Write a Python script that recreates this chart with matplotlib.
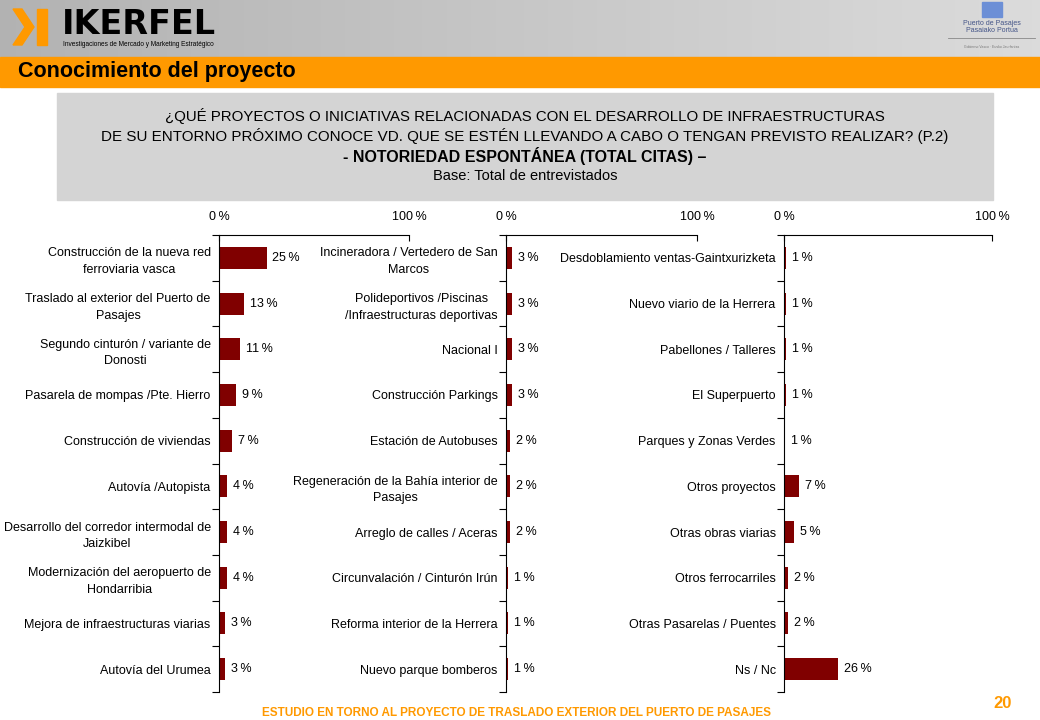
import numpy as np
import matplotlib
matplotlib.use("Agg")
import matplotlib.pyplot as plt
from matplotlib.patches import Rectangle, Polygon

plt.rcParams['font.family'] = ['Liberation Sans', 'DejaVu Sans']

# ---- data ----
cats1 = ["Construcción de la nueva red\nferroviaria vasca",
         "Traslado al exterior del Puerto de\nPasajes",
         "Segundo cinturón / variante de\nDonosti",
         "Pasarela de mompas /Pte. Hierro",
         "Construcción de viviendas",
         "Autovía /Autopista",
         "Desarrollo del corredor intermodal de\nJaizkibel",
         "Modernización del aeropuerto de\nHondarribia",
         "Mejora de infraestructuras viarias",
         "Autovía del Urumea"]
vals1 = [25, 13, 11, 9, 7, 4, 4, 4, 3, 3]

cats2 = ["Incineradora / Vertedero de San\nMarcos",
         "Polideportivos /Piscinas\n/Infraestructuras deportivas",
         "Nacional I",
         "Construcción Parkings",
         "Estación de Autobuses",
         "Regeneración de la Bahía interior de\nPasajes",
         "Arreglo de calles / Aceras",
         "Circunvalación / Cinturón Irún",
         "Reforma interior de la Herrera",
         "Nuevo parque bomberos"]
vals2 = [3, 3, 3, 3, 2, 2, 2, 1, 1, 1]

cats3 = ["Desdoblamiento ventas-Gaintxurizketa",
         "Nuevo viario de la Herrera",
         "Pabellones / Talleres",
         "El Superpuerto",
         "Parques y Zonas Verdes",
         "Otros proyectos",
         "Otras obras viarias",
         "Otros ferrocarriles",
         "Otras Pasarelas / Puentes",
         "Ns / Nc"]
vals3 = [1, 1, 1, 1, 0.3, 7, 5, 2, 2, 26]

bar_color = "#800000"
orange = "#FF9900"

W, H = 1040, 720
fig = plt.figure(figsize=(W / 100, H / 100), dpi=100)
fig.patch.set_facecolor("white")

def px(x, y, w, h):
    # pixel box (top-left origin) -> figure fraction rect
    return [x / W, 1 - (y + h) / H, w / W, h / H]

# ---- header ----
bg = fig.add_axes([0, 0, 1, 1], zorder=-5)
bg.set_xlim(0, W)
bg.set_ylim(H, 0)
bg.axis("off")
grad = np.linspace(0.70, 0.86, 256).reshape(1, -1)
bg.imshow(np.dstack([grad, grad, grad]), extent=[0, W, 57, 0], aspect="auto")
bg.add_patch(Rectangle((0, 57), W, 30, color=orange))
bg.text(18, 72, "Conocimiento del proyecto", fontsize=15.5, fontweight="bold",
        va="center", ha="left")

# IKERFEL logo
bg.add_patch(Polygon([(13, 9), (22, 9), (34, 27), (22, 45), (13, 45), (25, 27)],
                     color=orange))
bg.add_patch(Rectangle((37, 9), 10, 36, color=orange))
bg.text(62, 24, "IKERFEL", fontsize=24, fontweight="heavy", va="center",
        ha="left", family="DejaVu Sans")
bg.text(63, 44, "Investigaciones de Mercado y Marketing Estratégico", fontsize=4.7,
        va="center", ha="left")

# Puerto de Pasajes logo
bg.add_patch(Rectangle((982, 2), 20, 15, color="#6c8fd6"))
bg.text(992, 27, "Puerto de Pasajes\nPasaiako Portua", fontsize=5, color="#445588",
        ha="center", va="center", linespacing=1.1)
bg.plot([948, 1035], [38, 38], color="#888888", lw=0.6)
bg.text(992, 47, "Gobierno Vasco · Eusko Jaurlaritza", fontsize=2.5,
        color="#777777", ha="center", va="center")

# question box
bg.add_patch(Rectangle((57, 93), 936, 107, color="#d4d4d4"))
bg.text(525, 116, "¿QUÉ PROYECTOS O INICIATIVAS RELACIONADAS CON EL DESARROLLO DE INFRAESTRUCTURAS",
        fontsize=10.8, ha="center", va="center")
bg.text(525, 136, "DE SU ENTORNO PRÓXIMO CONOCE VD. QUE SE ESTÉN LLEVANDO A CABO O TENGAN PREVISTO REALIZAR? (P.2)",
        fontsize=10.9, ha="center", va="center")
bg.text(525, 156, "- NOTORIEDAD ESPONTÁNEA (TOTAL CITAS) –", fontsize=11.5,
        fontweight="bold", ha="center", va="center")
bg.text(525, 176, "Base: Total de entrevistados", fontsize=10.5, ha="center", va="center")

# footer
bg.text(516, 713, "ESTUDIO EN TORNO AL PROYECTO DE TRASLADO EXTERIOR DEL PUERTO DE PASAJES",
        fontsize=8.5, fontweight="bold", color=orange, ha="center", va="center")
bg.text(1003, 703, "20", fontsize=12, fontweight="bold", color=orange,
        ha="center", va="center")

# ---- bar panels ----
def panel(rect, cats, vals):
    ax = fig.add_axes(rect)
    n = len(cats)
    y = np.arange(n)
    ax.barh(y, vals, height=0.48, color=bar_color)
    off = 6 * 100 / (rect[2] * W)
    for yi, v in zip(y, vals):
        ax.text(v + off, yi, "%d\u2009%%" % np.ceil(v),
                va="center", ha="left", fontsize=9)
    ax.set_xlim(0, 100)
    ax.set_ylim(n - 0.5, -0.5)
    for s in ["right", "bottom"]:
        ax.spines[s].set_visible(False)
    ax.xaxis.tick_top()
    ax.set_xticks([0, 100])
    ax.set_xticklabels(["0\u2009%", "100\u2009%"], fontsize=9)
    ax.tick_params(axis="x", direction="in", length=4, pad=9)
    ax.set_yticks(np.arange(n + 1) - 0.5)
    ax.set_yticklabels([])
    ax.tick_params(axis="y", which="major", direction="out", length=5)
    ax.set_yticks(y, minor=True)
    ax.set_yticklabels(cats, minor=True, fontsize=9, linespacing=1.5)
    for lbl in ax.get_yticklabels(minor=True):
        lbl.set_multialignment("center")
    ax.tick_params(axis="y", which="minor", length=0, pad=6)
    ax.set_facecolor("none")
    return ax

panel(px(219, 235, 190, 457), cats1, vals1)
panel(px(506, 235, 191, 457), cats2, vals2)
panel(px(784, 235, 208, 457), cats3, vals3)

fig.savefig("out.png", dpi=100)
